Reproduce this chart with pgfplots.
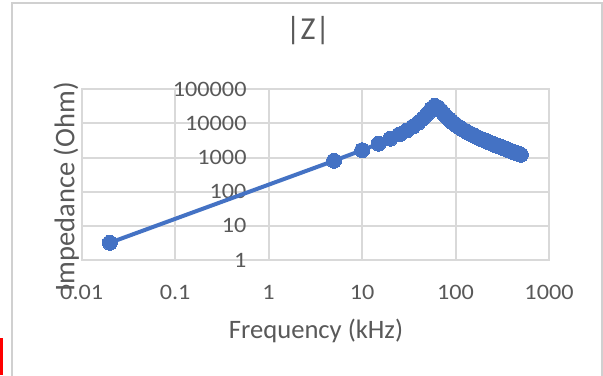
\documentclass[border=0pt]{standalone}
\usepackage{fontspec}
\setmainfont{Carlito}
\newfontfamily\tickfont[FakeStretch=1.1]{Carlito}
\usepackage{pgfplots}
\pgfplotsset{compat=1.18}
\definecolor{xlblue}{RGB}{68,114,196}
\definecolor{xlgrid}{RGB}{217,217,217}
\definecolor{xltext}{RGB}{89,89,89}
\definecolor{xlframe}{RGB}{208,208,208}
\begin{document}
\begin{tikzpicture}[x=1bp,y=1bp]
\useasboundingbox (0,0) rectangle (603,375);
\fill[white] (0,0) rectangle (603,375);
\draw[xlframe, line width=2bp] (11.7,-3) -- (11.7,371.7) -- (601.5,371.7) -- (601.5,-3);
\fill[red] (0,0) rectangle (2.7,37);
\begin{axis}[
  at={(81.7bp,115bp)}, anchor=south west,
  scale only axis, width=467.3bp, height=170.7bp,
  xmode=log, ymode=log,
  xmin=0.01, xmax=1000, ymin=1, ymax=100000,
  xtick={0.01,0.1,1,10,100,1000},
  xticklabels={0.01,0.1,1,10,100,1000},
  ytick={1,10,100,1000,10000,100000},
  yticklabels={1,10,100,1000,10000,100000},
  xminorticks=false, yminorticks=false,
  major tick length=0pt, minor tick length=0pt,
  grid=major,
  grid style={xlgrid, line width=2bp},
  axis line style={xlgrid, line width=2bp},
  ticklabel style={font=\tickfont\fontsize{22bp}{26bp}\selectfont, text=xltext, inner sep=0pt},
  xticklabel style={anchor=north, yshift=-25bp},
  yticklabel style={anchor=east, xshift=165bp},
  title={|Z|},
  title style={font=\fontsize{32bp}{36bp}\selectfont, text=xltext, at={(axis description cs:0.4843,1.308)}, anchor=center, inner sep=0pt},
  xlabel={Frequency (kHz)},
  xlabel style={font=\fontsize{26.6bp}{30bp}\selectfont, text=xltext, at={(axis description cs:0.5014,-0.457)}, anchor=base, inner sep=0pt},
  ylabel={Impedance (Ohm)},
  ylabel style={font=\fontsize{28.5bp}{32bp}\selectfont, text=xltext, at={(axis description cs:-0.033,0.428)}, anchor=center, inner sep=0pt},
]
\addplot[xlblue, line width=4bp, mark=*, mark size=7.5bp, mark options={fill=xlblue, draw=xlblue, line width=0pt}] coordinates {
(0.02,3.2) (5,806) (10,1646) (15,2549) (20,3567) (25,4757) (30,6212) (35,8072)
(40,10570) (45,14090) (50,19300) (55,26500) (60,33000) (65,29500) (70,23800)
(75,19100) (80,15800) (85,13400) (90,11700) (95,10300) (100,9300)
(110,7750) (120,6650) (130,5850) (140,5230) (150,4740) (160,4330) (170,3991)
(180,3714) (190,3476) (200,3268) (210,3085) (220,2922) (230,2777) (240,2646)
(250,2527) (260,2419) (270,2320) (280,2229) (290,2146) (300,2068) (310,1996)
(320,1929) (330,1867) (340,1808) (350,1754) (360,1702) (370,1654) (380,1608)
(390,1565) (400,1524) (410,1485) (420,1448) (430,1413) (440,1380) (450,1348)
(460,1318) (470,1289) (480,1261) (490,1235) (500,1209)
};
\end{axis}
\end{tikzpicture}
\end{document}
